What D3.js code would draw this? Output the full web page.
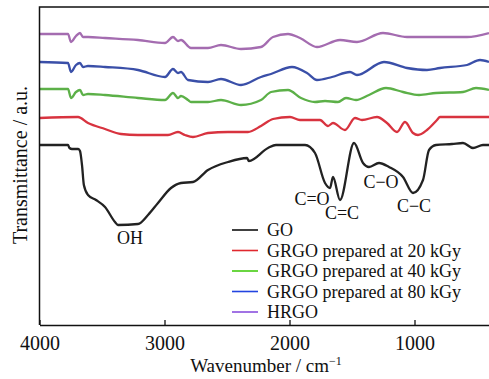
<!DOCTYPE html>
<html>
<head>
<meta charset="utf-8">
<script src="https://cdn.jsdelivr.net/npm/d3@7"></script>
<style>
  body { margin: 0; background: #fff; }
  text { font-family: "Liberation Serif", "Times New Roman", serif; fill: #111; }
</style>
</head>
<body>
<div id="area"></div>
<script>
// spectra: [wavenumber, transmittance (a.u.)]
var go = [[4000,180],[3772,180],[3760,177],[3740,176],[3690,176],[3676,174],[3660,160],[3645,140],[3612,130],
  [3548,125],[3476,118],[3396,103],[3372,100],[3212,101],[3132,110],[3052,122],[2948,137],[2868,142],[2772,143],
  [2652,155],[2492,163],[2340,167],[2325,164],[2172,177],[2108,180],[2012,180],[1876,180],[1796,172],[1716,142],
  [1676,137],[1652,148],[1596,125],[1484,182],[1412,162],[1364,158],[1284,162],[1204,158],[1092,148],[1012,132],
  [932,145],[884,175],[828,180],[700,181],[612,182],[532,177],[452,180],[400,180]];
var grgo20 = [[4000,207],[3692,208],[3612,202],[3476,196],[3348,191],[3212,190],[2972,190],[2892,193],[2836,190],
  [2772,188],[2652,192],[2492,193],[2332,193],[2228,199],[2132,206],[1996,208],[1916,205],[1756,205],[1692,199],
  [1652,202],[1556,195],[1476,207],[1420,205],[1300,208],[1220,202],[1140,193],[1076,203],[1012,192],[972,190],
  [900,195],[820,205],[796,208],[600,208],[404,208]];
var grgo40 = [[4000,236],[3772,236],[3748,227],[3708,233],[3676,235],[3652,230],[3612,231],[3476,230],[3212,227],
  [2996,225],[2932,232],[2892,227],[2868,229],[2812,225],[2788,223],[2652,223],[2548,225],[2388,220],[2228,225],
  [2148,233],[2012,235],[1908,227],[1796,223],[1716,224],[1612,223],[1548,227],[1468,225],[1364,230],[1228,237],
  [1092,233],[964,230],[828,232],[612,233],[508,237],[404,235]];
var grgo80 = [[4000,263],[3772,262],[3748,253],[3708,260],[3676,262],[3652,258],[3612,259],[3476,258],[3212,255],
  [2996,248],[2932,256],[2892,252],[2868,253],[2812,245],[2652,243],[2548,246],[2388,240],[2228,248],[2148,251],
  [1980,258],[1860,252],[1780,245],[1660,248],[1516,253],[1460,250],[1244,263],[1060,257],[900,255],[796,257],
  [580,260],[476,265],[404,263]];
var hrgo = [[4000,291],[3772,291],[3748,283],[3708,289],[3676,292],[3652,288],[3612,288],[3476,287],[3212,285],
  [2996,282],[2932,288],[2892,284],[2868,285],[2788,277],[2652,277],[2548,280],[2388,276],[2228,278],[2132,288],
  [2012,291],[1916,287],[1780,278],[1596,285],[1460,283],[1252,292],[1060,288],[796,288],[580,288],[404,292]];

var seriesNames = ["GO", "GRGO prepared at 20 kGy", "GRGO prepared at 40 kGy", "GRGO prepared at 80 kGy", "HRGO"];
var lineColors = ["#222222", "#d8333f", "#5cb048", "#3a4fa8", "#a46cb0"];
var legendColors = ["#111111", "#e0282e", "#44cc11", "#2244e0", "#8a50dd"];
var xTicks = [4000, 3000, 2000, 1000];
var bands = ["OH", "C=O", "C=C", "C\u2212O", "C\u2212C"];
var bandWn = [3276, 1820, 1580, 1268, 1004];
var bandT = [81, 120, 106, 137, 113];

var width = 489, height = 379;
var plotL = 39.5, plotR = 489.5, plotT = 7, plotB = 325;

var svg = d3.select("#area").append("svg")
  .attr("width", width)
  .attr("height", height);

var x = d3.scaleLinear().domain([4000, 400]).range([plotL, plotR]);
var y = d3.scaleLinear().domain([0, 318]).range([plotB, plotT]);

var line = d3.line()
  .x(function (d) { return x(d[0]); })
  .y(function (d) { return y(d[1]); })
  .curve(d3.curveMonotoneX);

var allSeries = [go, grgo20, grgo40, grgo80, hrgo];
svg.selectAll(".spec")
  .data(allSeries)
  .enter().append("path")
  .attr("class", "spec")
  .attr("fill", "none")
  .attr("stroke", function (d, i) { return lineColors[i]; })
  .attr("stroke-width", 2.3)
  .attr("stroke-linejoin", "round")
  .attr("d", line);

// frame: left, top and the bottom axis
svg.append("path")
  .attr("d", "M" + plotR + "," + plotT + "H" + plotL + "V" + plotB)
  .attr("fill", "none").attr("stroke", "#111").attr("stroke-width", 1.5);

var xAxis = svg.append("g")
  .attr("transform", "translate(0," + plotB + ")")
  .call(d3.axisBottom(x).tickValues(xTicks).tickFormat(d3.format("d"))
    .tickSizeInner(-5).tickSizeOuter(0).tickPadding(11));
xAxis.select(".domain").attr("stroke", "#111").attr("stroke-width", 1.5);
xAxis.selectAll(".tick line").attr("stroke", "#111").attr("stroke-width", 1.3);
xAxis.selectAll(".tick text")
  .style("font-family", '"Liberation Serif", serif')
  .style("font-size", "20px")
  .attr("fill", "#111");

var xt = svg.append("text")
  .attr("x", 266).attr("y", 372)
  .attr("text-anchor", "middle")
  .style("font-size", "19px");
xt.append("tspan").text("Wavenumber / cm");
xt.append("tspan").attr("dy", -7).style("font-size", "12px").text("\u22121");

svg.append("text")
  .attr("transform", "translate(27,165) rotate(-90)")
  .attr("text-anchor", "middle")
  .style("font-size", "20px")
  .text("Transmittance / a.u.");

// band labels
svg.selectAll(".band")
  .data(bands)
  .enter().append("text")
  .attr("class", "band")
  .attr("x", function (d, i) { return x(bandWn[i]); })
  .attr("y", function (d, i) { return y(bandT[i]); })
  .attr("text-anchor", "middle")
  .style("font-size", "18px")
  .text(function (d) { return d; });

// legend
var lg = svg.selectAll(".lg")
  .data(seriesNames)
  .enter().append("g")
  .attr("class", "lg")
  .attr("transform", function (d, i) { return "translate(232," + (230 + i * 20.5) + ")"; });
lg.append("line")
  .attr("x1", 0).attr("x2", 26)
  .attr("stroke", function (d, i) { return legendColors[i]; })
  .attr("stroke-width", 1.6);
lg.append("text")
  .attr("x", 35).attr("y", 6)
  .style("font-size", "18px")
  .text(function (d) { return d; });
</script>
</body>
</html>
